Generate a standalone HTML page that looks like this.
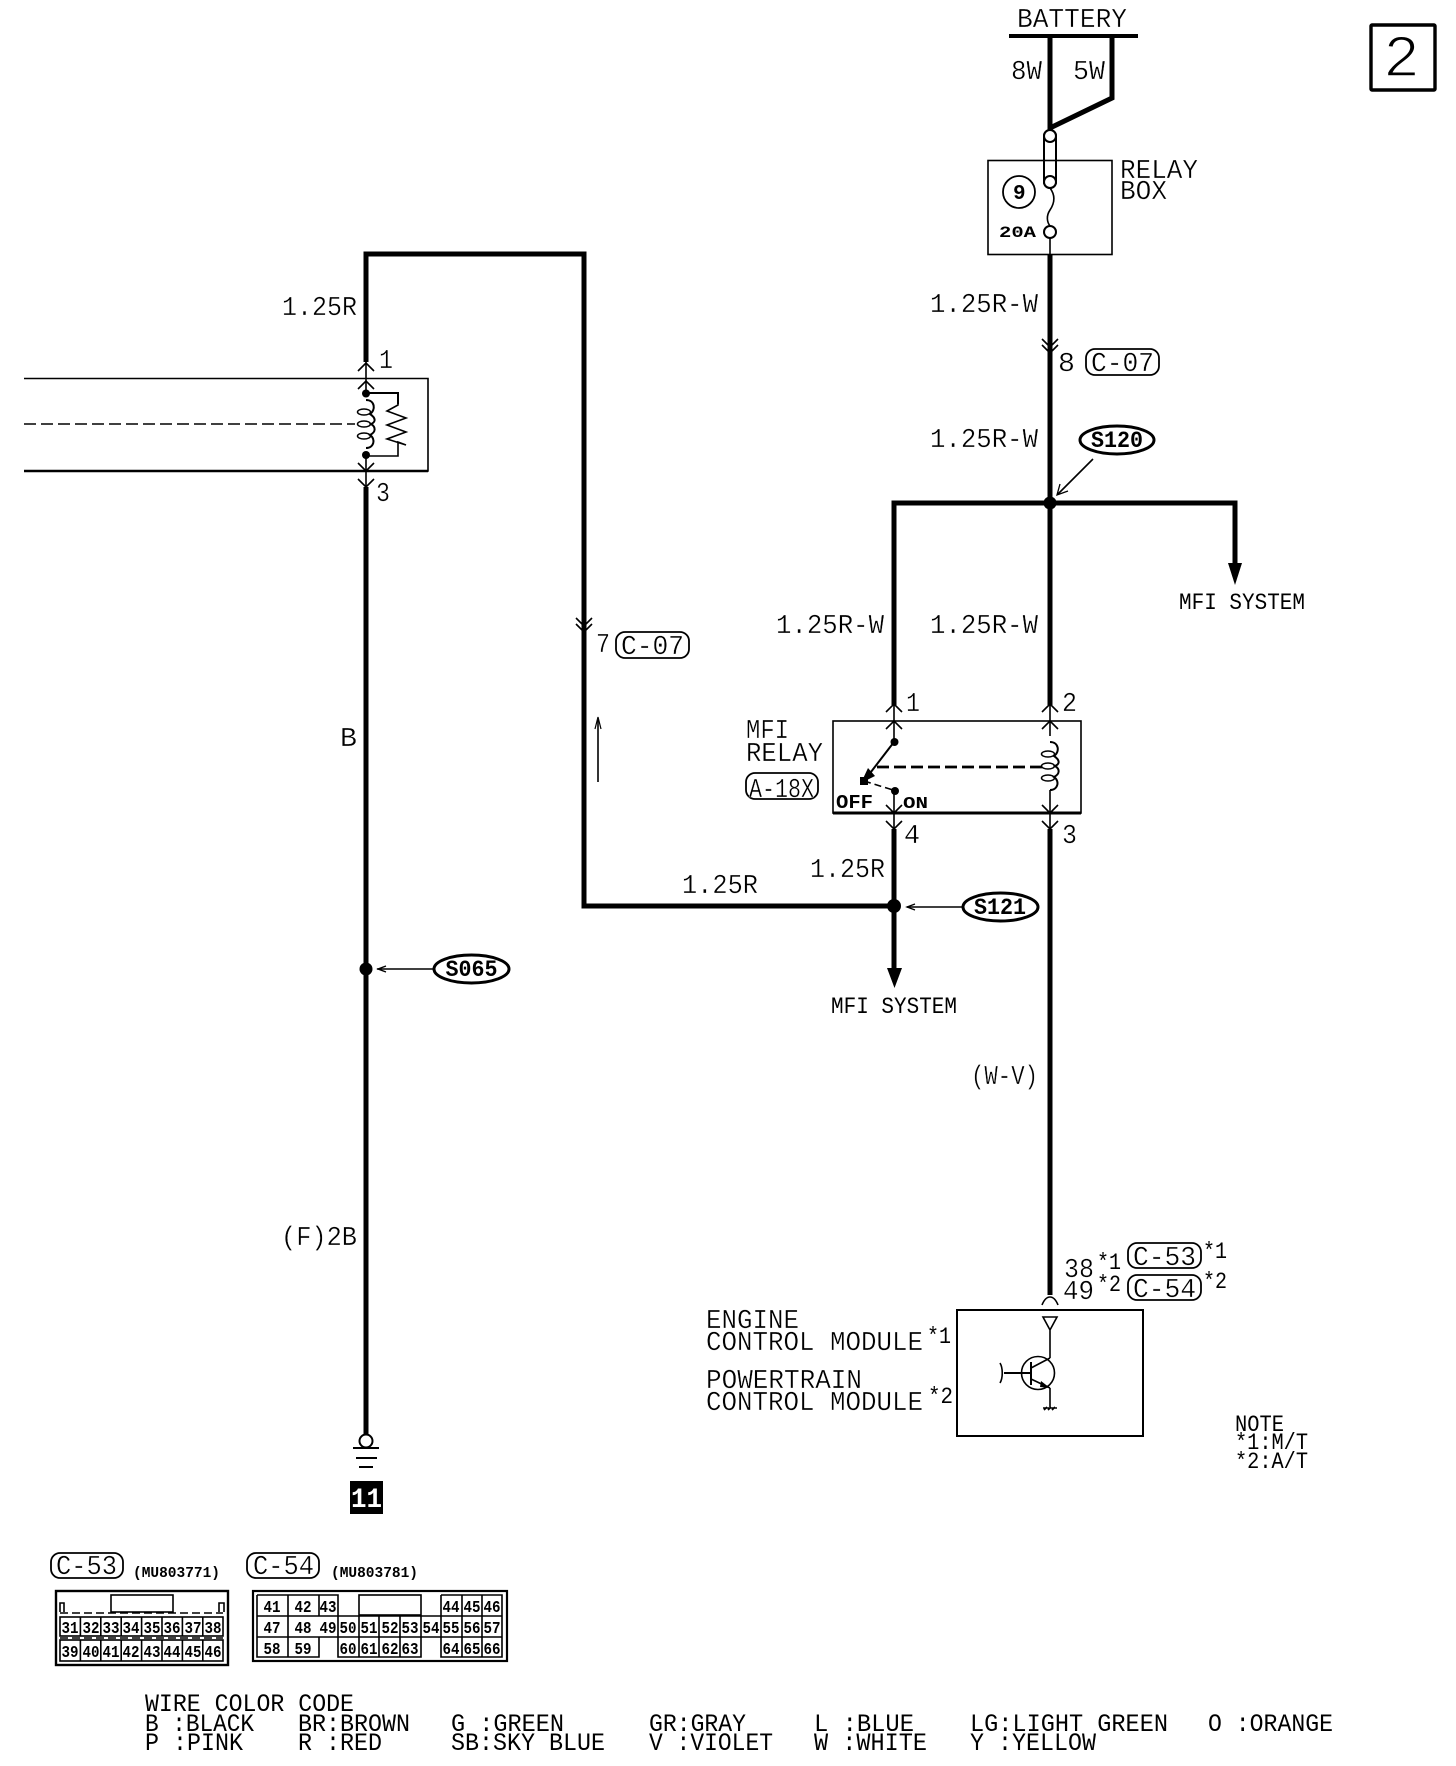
<!DOCTYPE html>
<html><head><meta charset="utf-8"><style>
html,body{margin:0;padding:0;background:#fff}
svg{display:block}
text{font-family:"Liberation Mono",monospace;fill:#000}
.t text{stroke:#fff;stroke-width:.35px}
</style></head><body>
<svg width="1456" height="1766" viewBox="0 0 1456 1766" xmlns="http://www.w3.org/2000/svg">
<defs>
<path id="u" d="M-8,8L0,0L8,8" fill="none" stroke="#000" stroke-width="1.6"/>
<path id="d" d="M-8,-8L0,0L8,-8" fill="none" stroke="#000" stroke-width="1.6"/>
<g id="coil" fill="none" stroke="#000" stroke-width="1.5">
<ellipse cx="-2" cy="-12" rx="6.5" ry="3"/><ellipse cx="-2" cy="0" rx="6.5" ry="3"/><ellipse cx="-2" cy="12" rx="6.5" ry="3"/>
<path d="M0,-24C9,-24 10,-14 4,-10C10,-6 10,-2 5,0C10,3 10,8 4,11C10,15 8,24 0,24" stroke-width="2"/>
</g>
</defs>
<rect width="1456" height="1766" fill="#fff"/>

<!-- thick wires -->
<g fill="none" stroke="#000" stroke-width="5" stroke-linejoin="miter">
<path d="M1009,36H1138" stroke-width="4"/>
<path d="M1050,36V128L1112,98V36"/>
<path d="M1050,254V705"/>
<path d="M894,705V503H1235V570"/>
<path d="M366,362V254H584V906H894"/>
<path d="M894,829V972"/>
<path d="M1050,829V1295"/>
<path d="M366,487V1435"/>
</g>

<!-- thin wires in components -->
<g fill="none" stroke="#000" stroke-width="1.6">
<path d="M366,362V395M366,455V487"/>
<path d="M1050,705V736M1050,790V829"/>
<path d="M894,705V742M894,791V829"/>
<path d="M1050,238V254"/>
<rect x="1044" y="130" width="12" height="58" rx="6" stroke-width="2"/>
<path d="M1050,188C1056,196 1054,204 1050,210C1046,216 1047,222 1050,226" stroke-width="1.6"/>
<rect x="988" y="160.5" width="124" height="94"/>
<path d="M24,378.5H428V471H24M428,378V471"/>
<path d="M24,471H428" stroke-width="2.4"/>
<path d="M24,424H355" stroke-dasharray="12 5"/>
<path d="M366,393H398V405L387,411L406,418L387,425L406,432L387,439L406,445L398,442V456H366"/>
<path d="M366,393H398V404" stroke-width="2"/>
<rect x="833" y="721" width="248" height="92" stroke-width="1.6"/>
<path d="M833,813H1081" stroke-width="3"/>
<path d="M894,742L864,781" stroke-width="2"/>
<path d="M864,781L893,790" stroke-dasharray="7 4"/>
<path d="M877,767H1044" stroke-width="2.8" stroke-dasharray="12 5"/>
<rect x="957" y="1310" width="186" height="126" stroke-width="2"/>
<path d="M1042,1305C1044,1300 1047,1297 1050,1297C1053,1297 1056,1300 1058,1305"/>
<path d="M1043,1317H1057L1050,1330ZM1050,1330V1358M1050,1388V1407"/>
<circle cx="1038" cy="1373" r="16.5"/>
<path d="M1004,1373H1031M1031,1362V1385" stroke-width="2"/>
<path d="M1000,1363C1003,1368 1003,1378 1000,1383"/>
<path d="M1031,1368L1050,1358M1031,1379L1050,1388"/>
<path d="M1044,1410L1047,1407M1048,1410L1051,1407M1052,1410L1055,1407M1043,1408H1057"/>
<path d="M598,782V720"/>
<path d="M595,729L598,717L601,729" stroke-width="1.2"/>
<path d="M377,969H433M907,907H962M1093,459L1058,494"/>
<path d="M386,966L378,969L386,972M915,904L907,907L915,910M1060,484L1057,495L1068,491" stroke-width="1.3"/>
<path d="M353,1448H379M356,1458H377M359,1467H373" stroke-width="2"/>
<circle cx="366" cy="1441" r="6.5" fill="#fff" stroke-width="2"/>
<circle cx="1050" cy="136" r="6" fill="#fff" stroke-width="2"/>
<circle cx="1050" cy="182" r="6" fill="#fff" stroke-width="2"/>
<circle cx="1050" cy="232" r="6" fill="#fff" stroke-width="2"/>
<circle cx="1019" cy="192" r="16" stroke-width="1.8"/>
<ellipse cx="471.500" cy="969" rx="37.500" ry="14" fill="#fff" stroke-width="3"/>
<ellipse cx="1117" cy="440" rx="37" ry="14" fill="#fff" stroke-width="3"/>
<ellipse cx="1000.500" cy="907" rx="37.500" ry="14" fill="#fff" stroke-width="3"/>
<rect x="1371" y="25" width="64" height="65" stroke-width="3.4" rx="1"/>
</g>

<!-- dots and heads -->
<circle cx="366" cy="393.500" r="4"/><circle cx="366" cy="455" r="4"/>
<circle cx="366" cy="969" r="6.500"/><circle cx="1050" cy="503" r="6.500"/><circle cx="894" cy="906" r="7"/>
<circle cx="894.500" cy="742" r="4"/><circle cx="895" cy="791" r="4"/><rect x="860" y="777" width="8" height="8"/>
<path d="M1228,563H1242L1235,585Z"/>
<path d="M887,968H902L894.500,988Z"/>
<path d="M868,768L861,783L875,776Z"/>
<path d="M1041,1381L1050,1388L1040,1387Z"/>
<rect x="350" y="1481" width="33" height="33"/>

<use href="#coil" x="366" y="424"/>
<use href="#coil" x="1050" y="766"/>

<!-- chevrons -->
<use href="#u" x="366" y="363"/><use href="#u" x="366" y="381"/>
<use href="#d" x="366" y="471"/><use href="#d" x="366" y="487"/>
<use href="#d" x="1050" y="347"/><use href="#d" x="1050" y="353"/>
<use href="#d" x="584" y="626"/><use href="#d" x="584" y="632"/>
<use href="#u" x="894" y="704"/><use href="#u" x="894" y="721"/>
<use href="#u" x="1050" y="704"/><use href="#u" x="1050" y="721"/>
<use href="#d" x="894" y="813"/><use href="#d" x="894" y="829"/>
<use href="#d" x="1050" y="813"/><use href="#d" x="1050" y="829"/>

<!-- pills -->
<g fill="none" stroke="#000" stroke-width="1.8">
<rect x="1086" y="349" width="73" height="26" rx="9"/>
<rect x="616" y="632" width="73" height="26" rx="9"/>
<rect x="746" y="773" width="72" height="26" rx="9"/>
<rect x="1128" y="1243" width="73" height="25" rx="9"/>
<rect x="1128" y="1275" width="73" height="25" rx="9"/>
<rect x="51" y="1553" width="72" height="25" rx="9"/>
<rect x="247" y="1553" width="72" height="25" rx="9"/>
</g>

<!-- labels -->
<g class="t" font-size="27">
<text x="1017" y="27" textLength="110" lengthAdjust="spacingAndGlyphs">BATTERY</text>
<text x="1011" y="79" textLength="31" lengthAdjust="spacingAndGlyphs">8W</text>
<text x="1073" y="79" textLength="32" lengthAdjust="spacingAndGlyphs">5W</text>
<text x="1120" y="178" textLength="78" lengthAdjust="spacingAndGlyphs">RELAY</text>
<text x="1120" y="199" textLength="47" lengthAdjust="spacingAndGlyphs">BOX</text>
<text x="930" y="312" textLength="108" lengthAdjust="spacingAndGlyphs">1.25R-W</text>
<text x="930" y="447" textLength="108" lengthAdjust="spacingAndGlyphs">1.25R-W</text>
<text x="930" y="633" textLength="108" lengthAdjust="spacingAndGlyphs">1.25R-W</text>
<text x="776" y="633" textLength="108" lengthAdjust="spacingAndGlyphs">1.25R-W</text>
<text x="1058" y="371" textLength="17" lengthAdjust="spacingAndGlyphs">8</text>
<text x="1091" y="371" textLength="63" lengthAdjust="spacingAndGlyphs">C-07</text>
<text x="621" y="654" textLength="63" lengthAdjust="spacingAndGlyphs">C-07</text>
<text x="596" y="652" textLength="14" lengthAdjust="spacingAndGlyphs">7</text>
<text x="282" y="315" textLength="75" lengthAdjust="spacingAndGlyphs">1.25R</text>
<text x="379" y="368" textLength="14" lengthAdjust="spacingAndGlyphs">1</text>
<text x="376" y="501" textLength="14" lengthAdjust="spacingAndGlyphs">3</text>
<text x="340" y="746" textLength="17" lengthAdjust="spacingAndGlyphs">B</text>
<text x="281" y="1245" textLength="76" lengthAdjust="spacingAndGlyphs">(F)2B</text>
<text x="906" y="711" textLength="14" lengthAdjust="spacingAndGlyphs">1</text>
<text x="1062" y="711" textLength="15" lengthAdjust="spacingAndGlyphs">2</text>
<text x="904" y="843" textLength="16" lengthAdjust="spacingAndGlyphs">4</text>
<text x="1062" y="843" textLength="15" lengthAdjust="spacingAndGlyphs">3</text>
<text x="746" y="738" textLength="43" lengthAdjust="spacingAndGlyphs">MFI</text>
<text x="746" y="761" textLength="77" lengthAdjust="spacingAndGlyphs">RELAY</text>
<text x="810" y="877" textLength="75" lengthAdjust="spacingAndGlyphs">1.25R</text>
<text x="682" y="893" textLength="76" lengthAdjust="spacingAndGlyphs">1.25R</text>
<text x="971" y="1084" textLength="67" lengthAdjust="spacingAndGlyphs">(W-V)</text>
<text x="749" y="797" textLength="65" lengthAdjust="spacingAndGlyphs">A-18X</text>
<text x="1133" y="1265" textLength="63" lengthAdjust="spacingAndGlyphs">C-53</text>
<text x="1133" y="1297" textLength="63" lengthAdjust="spacingAndGlyphs">C-54</text>
<text x="56" y="1574" textLength="61" lengthAdjust="spacingAndGlyphs">C-53</text>
<text x="253" y="1574" textLength="61" lengthAdjust="spacingAndGlyphs">C-54</text>
<text x="1064" y="1277" textLength="30" lengthAdjust="spacingAndGlyphs">38</text>
<text x="1063" y="1299" textLength="31" lengthAdjust="spacingAndGlyphs">49</text>
<text x="706" y="1328" textLength="93" lengthAdjust="spacingAndGlyphs">ENGINE</text>
<text x="706" y="1350" textLength="217" lengthAdjust="spacingAndGlyphs">CONTROL MODULE</text>
<text x="706" y="1388" textLength="156" lengthAdjust="spacingAndGlyphs">POWERTRAIN</text>
<text x="706" y="1410" textLength="217" lengthAdjust="spacingAndGlyphs">CONTROL MODULE</text>
</g>
<g font-size="23">
<text x="1097" y="1269" textLength="24" lengthAdjust="spacingAndGlyphs">*1</text>
<text x="1097" y="1291" textLength="24" lengthAdjust="spacingAndGlyphs">*2</text>
<text x="1203" y="1258" textLength="24" lengthAdjust="spacingAndGlyphs">*1</text>
<text x="1203" y="1288" textLength="24" lengthAdjust="spacingAndGlyphs">*2</text>
<text x="927" y="1343" textLength="24" lengthAdjust="spacingAndGlyphs">*1</text>
<text x="928" y="1403" textLength="25" lengthAdjust="spacingAndGlyphs">*2</text>
<text x="831" y="1013" textLength="126" lengthAdjust="spacingAndGlyphs">MFI SYSTEM</text>
<text x="1179" y="609" textLength="126" lengthAdjust="spacingAndGlyphs">MFI SYSTEM</text>
<text x="1235" y="1431" textLength="49" lengthAdjust="spacingAndGlyphs">NOTE</text>
<text x="1235" y="1449" textLength="73" lengthAdjust="spacingAndGlyphs">*1:M/T</text>
<text x="1235" y="1468" textLength="73" lengthAdjust="spacingAndGlyphs">*2:A/T</text>
</g>
<g font-size="25">
<text x="145" y="1711" textLength="209" lengthAdjust="spacingAndGlyphs">WIRE COLOR CODE</text>
<text x="145" y="1731" textLength="109" lengthAdjust="spacingAndGlyphs">B :BLACK</text>
<text x="298" y="1731" textLength="112" lengthAdjust="spacingAndGlyphs">BR:BROWN</text>
<text x="451" y="1731" textLength="113" lengthAdjust="spacingAndGlyphs">G :GREEN</text>
<text x="649" y="1731" textLength="97" lengthAdjust="spacingAndGlyphs">GR:GRAY</text>
<text x="814" y="1731" textLength="100" lengthAdjust="spacingAndGlyphs">L :BLUE</text>
<text x="970" y="1731" textLength="198" lengthAdjust="spacingAndGlyphs">LG:LIGHT GREEN</text>
<text x="1208" y="1731" textLength="125" lengthAdjust="spacingAndGlyphs">O :ORANGE</text>
<text x="145" y="1750" textLength="98" lengthAdjust="spacingAndGlyphs">P :PINK</text>
<text x="298" y="1750" textLength="84" lengthAdjust="spacingAndGlyphs">R :RED</text>
<text x="451" y="1750" textLength="154" lengthAdjust="spacingAndGlyphs">SB:SKY BLUE</text>
<text x="649" y="1750" textLength="124" lengthAdjust="spacingAndGlyphs">V :VIOLET</text>
<text x="814" y="1750" textLength="113" lengthAdjust="spacingAndGlyphs">W :WHITE</text>
<text x="970" y="1750" textLength="126" lengthAdjust="spacingAndGlyphs">Y :YELLOW</text>
</g>
<g font-weight="bold">
<text x="1013" y="199" font-size="21">9</text>
<text x="999" y="237" font-size="16" textLength="37" lengthAdjust="spacingAndGlyphs">20A</text>
<text x="836" y="808" font-size="19" textLength="37" lengthAdjust="spacingAndGlyphs">OFF</text>
<text x="903" y="808" font-size="17" textLength="25" lengthAdjust="spacingAndGlyphs">ON</text>
<text x="445.500" y="976" font-size="23" textLength="52" lengthAdjust="spacingAndGlyphs">S065</text>
<text x="1091" y="447" font-size="23" textLength="52" lengthAdjust="spacingAndGlyphs">S120</text>
<text x="974" y="914" font-size="23" textLength="52" lengthAdjust="spacingAndGlyphs">S121</text>
<text x="133" y="1577" font-size="15" textLength="87" lengthAdjust="spacingAndGlyphs">(MU803771)</text>
<text x="331" y="1577" font-size="15" textLength="87" lengthAdjust="spacingAndGlyphs">(MU803781)</text>
<text x="351" y="1507" font-size="28" style="fill:#fff" textLength="31" lengthAdjust="spacingAndGlyphs">11</text>
</g>
<text x="1383" y="76" font-size="59" textLength="37" lengthAdjust="spacingAndGlyphs" style="stroke:#fff;stroke-width:1.6px">2</text>

<!-- C-53 connector -->
<g fill="none" stroke="#000" stroke-width="1.6">
<rect x="56" y="1591" width="172" height="74" stroke-width="2.4"/>
<rect x="111" y="1595" width="62" height="17"/>
<path d="M60,1612V1603H64V1612M219,1612V1603H224V1612"/>
<path d="M60,1613H223M60,1638H223" stroke-dasharray="8 4"/>
<rect x="60" y="1617" width="163" height="19"/>
<rect x="60" y="1640" width="163" height="21"/>
<path d="M80.400,1617V1636M100.800,1617V1636M121.200,1617V1636M141.600,1617V1636M162,1617V1636M182.400,1617V1636M202.800,1617V1636"/>
<path d="M80.400,1640V1661M100.800,1640V1661M121.200,1640V1661M141.600,1640V1661M162,1640V1661M182.400,1640V1661M202.800,1640V1661"/>
</g>
<g font-size="17" font-weight="bold" text-anchor="middle">
<text x="70" y="1633" textLength="17" lengthAdjust="spacingAndGlyphs">31</text>
<text x="91" y="1633" textLength="17" lengthAdjust="spacingAndGlyphs">32</text>
<text x="111" y="1633" textLength="17" lengthAdjust="spacingAndGlyphs">33</text>
<text x="131" y="1633" textLength="17" lengthAdjust="spacingAndGlyphs">34</text>
<text x="152" y="1633" textLength="17" lengthAdjust="spacingAndGlyphs">35</text>
<text x="172" y="1633" textLength="17" lengthAdjust="spacingAndGlyphs">36</text>
<text x="193" y="1633" textLength="17" lengthAdjust="spacingAndGlyphs">37</text>
<text x="213" y="1633" textLength="17" lengthAdjust="spacingAndGlyphs">38</text>
<text x="70" y="1657" textLength="17" lengthAdjust="spacingAndGlyphs">39</text>
<text x="91" y="1657" textLength="17" lengthAdjust="spacingAndGlyphs">40</text>
<text x="111" y="1657" textLength="17" lengthAdjust="spacingAndGlyphs">41</text>
<text x="131" y="1657" textLength="17" lengthAdjust="spacingAndGlyphs">42</text>
<text x="152" y="1657" textLength="17" lengthAdjust="spacingAndGlyphs">43</text>
<text x="172" y="1657" textLength="17" lengthAdjust="spacingAndGlyphs">44</text>
<text x="193" y="1657" textLength="17" lengthAdjust="spacingAndGlyphs">45</text>
<text x="213" y="1657" textLength="17" lengthAdjust="spacingAndGlyphs">46</text>
</g>

<!-- C-54 connector -->
<g fill="none" stroke="#000" stroke-width="1.6">
<rect x="253" y="1591" width="254" height="70" stroke-width="2.2"/>
<path d="M257,1595H338V1616M257,1595V1657H319V1637M288,1595V1657M319,1595V1616"/>
<rect x="359" y="1595" width="62" height="20"/>
<path d="M257,1616H502M257,1637H502"/>
<path d="M441,1595H502V1657H441V1595M462,1595V1657M482,1595V1657"/>
<path d="M338,1616V1657H421V1616M359,1616V1657M379,1616V1657M400,1616V1657"/>
</g>
<g font-size="17" font-weight="bold" text-anchor="middle">
<text x="272" y="1612" textLength="17" lengthAdjust="spacingAndGlyphs">41</text>
<text x="303" y="1612" textLength="17" lengthAdjust="spacingAndGlyphs">42</text>
<text x="328" y="1612" textLength="17" lengthAdjust="spacingAndGlyphs">43</text>
<text x="451" y="1612" textLength="17" lengthAdjust="spacingAndGlyphs">44</text>
<text x="472" y="1612" textLength="17" lengthAdjust="spacingAndGlyphs">45</text>
<text x="492" y="1612" textLength="17" lengthAdjust="spacingAndGlyphs">46</text>
<text x="272" y="1633" textLength="17" lengthAdjust="spacingAndGlyphs">47</text>
<text x="303" y="1633" textLength="17" lengthAdjust="spacingAndGlyphs">48</text>
<text x="328" y="1633" textLength="17" lengthAdjust="spacingAndGlyphs">49</text>
<text x="348" y="1633" textLength="17" lengthAdjust="spacingAndGlyphs">50</text>
<text x="369" y="1633" textLength="17" lengthAdjust="spacingAndGlyphs">51</text>
<text x="390" y="1633" textLength="17" lengthAdjust="spacingAndGlyphs">52</text>
<text x="410" y="1633" textLength="17" lengthAdjust="spacingAndGlyphs">53</text>
<text x="431" y="1633" textLength="17" lengthAdjust="spacingAndGlyphs">54</text>
<text x="451" y="1633" textLength="17" lengthAdjust="spacingAndGlyphs">55</text>
<text x="472" y="1633" textLength="17" lengthAdjust="spacingAndGlyphs">56</text>
<text x="492" y="1633" textLength="17" lengthAdjust="spacingAndGlyphs">57</text>
<text x="272" y="1654" textLength="17" lengthAdjust="spacingAndGlyphs">58</text>
<text x="303" y="1654" textLength="17" lengthAdjust="spacingAndGlyphs">59</text>
<text x="348" y="1654" textLength="17" lengthAdjust="spacingAndGlyphs">60</text>
<text x="369" y="1654" textLength="17" lengthAdjust="spacingAndGlyphs">61</text>
<text x="390" y="1654" textLength="17" lengthAdjust="spacingAndGlyphs">62</text>
<text x="410" y="1654" textLength="17" lengthAdjust="spacingAndGlyphs">63</text>
<text x="451" y="1654" textLength="17" lengthAdjust="spacingAndGlyphs">64</text>
<text x="472" y="1654" textLength="17" lengthAdjust="spacingAndGlyphs">65</text>
<text x="492" y="1654" textLength="17" lengthAdjust="spacingAndGlyphs">66</text>
</g>
</svg>
</body></html>
